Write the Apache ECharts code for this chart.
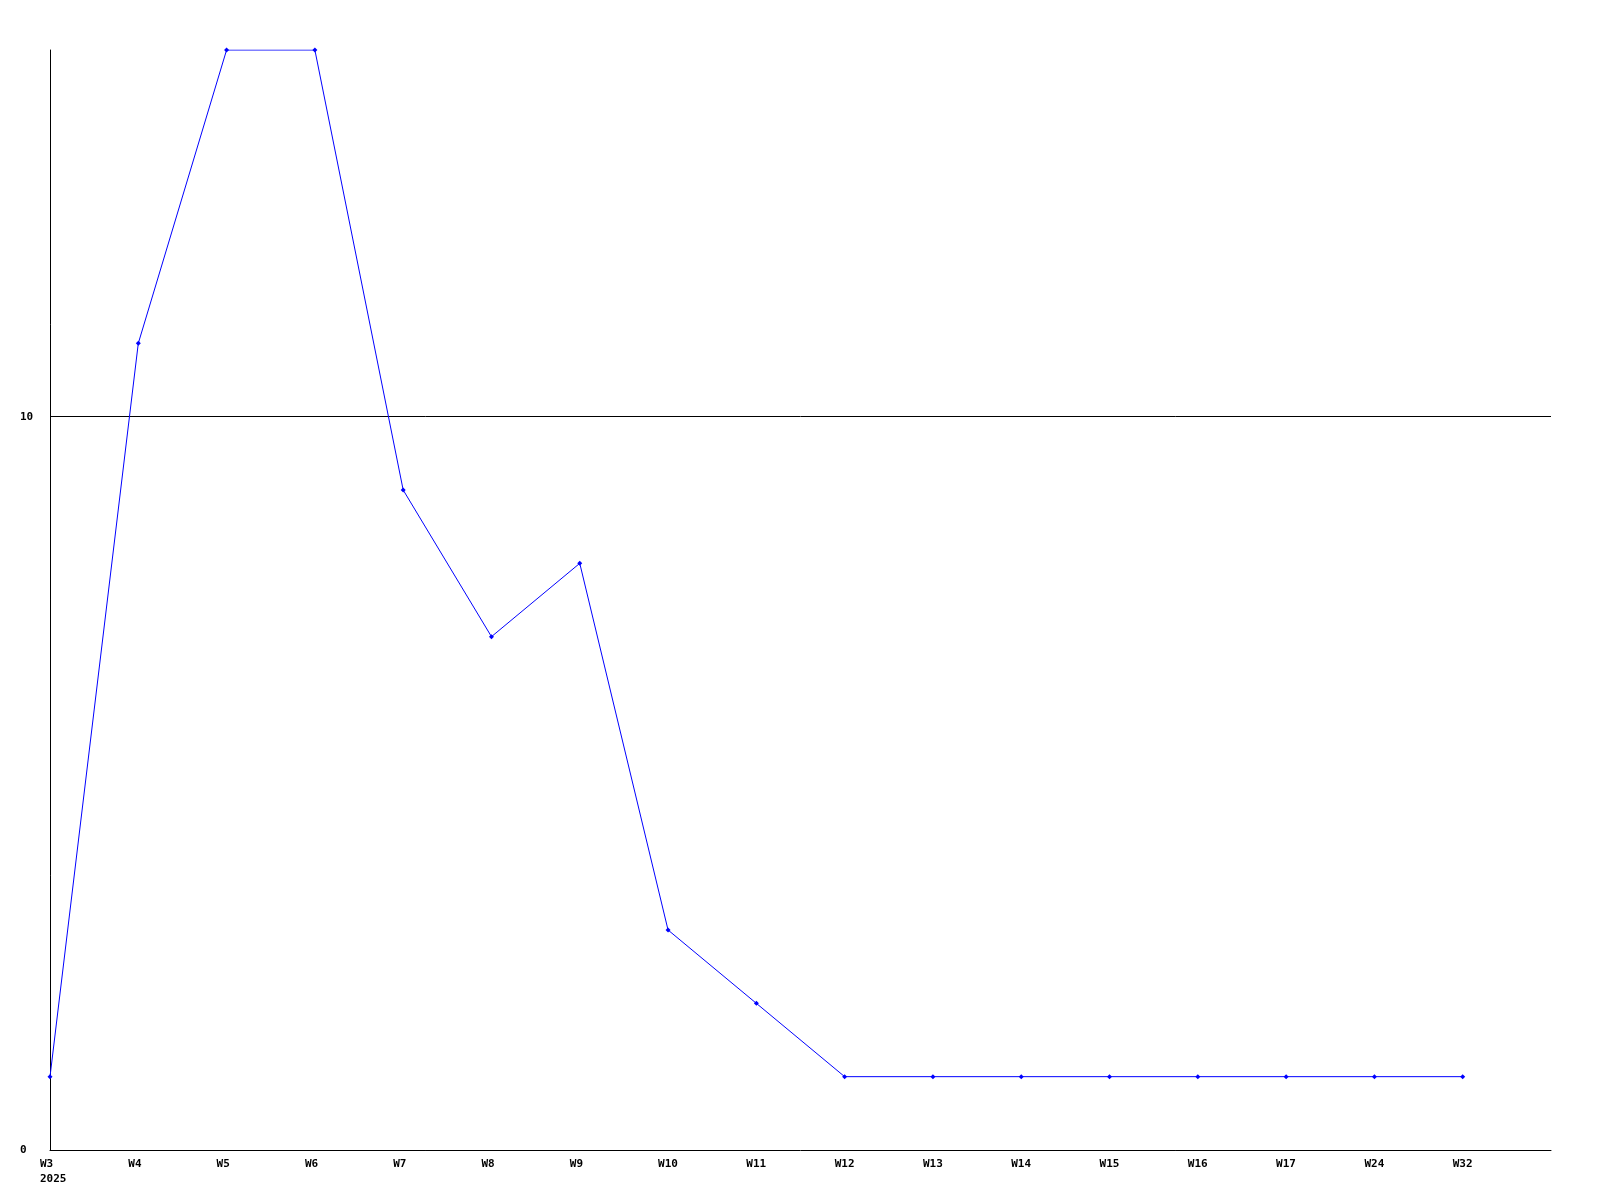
<!DOCTYPE html>
<html>
<head>
<meta charset="utf-8">
<style>html,body{margin:0;padding:0;background:#fff;}#c{width:1600px;height:1200px;}</style>
<script src="https://cdn.jsdelivr.net/npm/echarts@6/dist/echarts.min.js"></script>
</head>
<body>
<div id="c"></div>
<script>
const categories = ['W3','W4','W5','W6','W7','W8','W9','W10','W11','W12','W13','W14','W15','W16','W17','W24','W32',''];
const values = [1,11,15,15,9,7,8,3,2,1,1,1,1,1,1,1,1,null];
const yearLabel = '2025';
const yTicks = [0,10];

const chart = echarts.init(document.getElementById('c'));
const font = {fontFamily:'DejaVu Sans Mono', fontWeight:'bold', fontSize:11, color:'#000'};
chart.setOption({
  animation:false,
  backgroundColor:'#fff',
  grid:{left:50,right:49,top:50,bottom:50,containLabel:false},
  xAxis:{
    type:'category',
    data:categories,
    boundaryGap:false,
    axisLine:{lineStyle:{color:'#000',width:1}},
    axisTick:{show:false},
    splitLine:{show:false},
    axisLabel:Object.assign({}, font, {
      margin:7,
      interval:0,
      lineHeight:15,
      align:'center',
      formatter:function(v,i){ return i===0 ? '{a|'+v+'}\n{a|'+yearLabel+'}' : '{a|'+v+'}'; },
      rich:{a:Object.assign({}, font, {width:20, align:'left', lineHeight:15})}
    })
  },
  yAxis:{
    type:'value',
    min:0,max:15,interval:10,
    axisLine:{show:true,lineStyle:{color:'#000',width:1}},
    axisTick:{show:false},
    splitLine:{show:true,showMinLine:false,showMaxLine:false,lineStyle:{color:'#000',width:1}},
    axisLabel:Object.assign({}, font, {
      margin:30, align:'left',
      formatter:function(v){ return yTicks.indexOf(v)>=0 ? String(v) : ''; }
    })
  },
  series:[{
    type:'line',
    data:values,
    symbol:'diamond',
    symbolSize:5,
    showSymbol:true,
    lineStyle:{color:'#0000ff',width:1},
    itemStyle:{color:'#0000ff'},
    connectNulls:false
  }]
});
</script>
</body>
</html>
